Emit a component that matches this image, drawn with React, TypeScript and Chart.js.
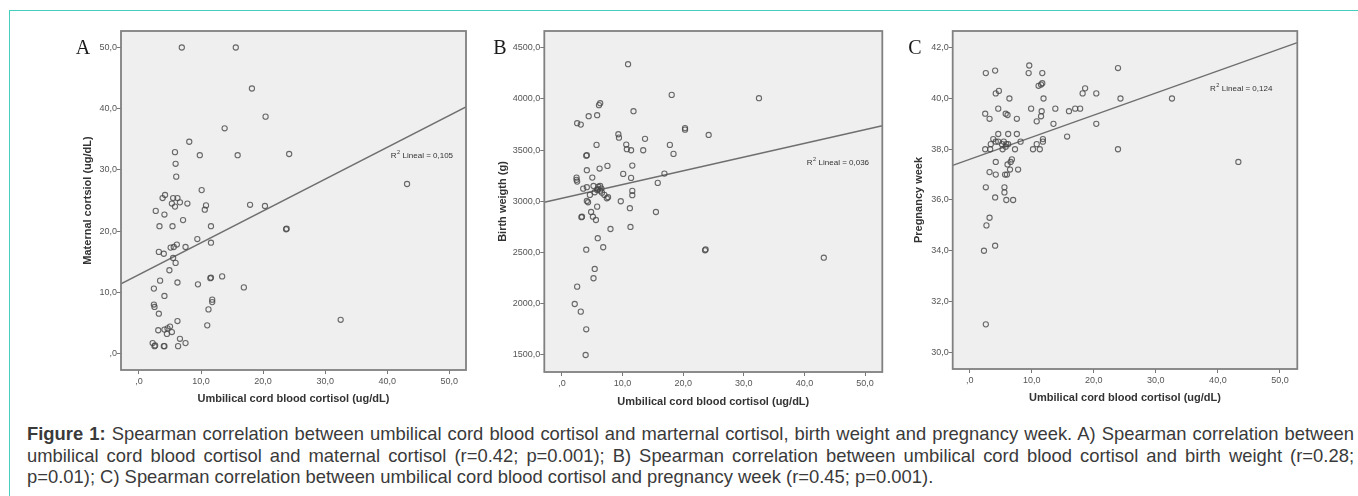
import React, { useEffect, useRef } from 'react';
import { Chart, registerables } from 'chart.js';

Chart.register(...registerables);
Chart.defaults.font.family = '"Liberation Sans", Arial, sans-serif';

// ---------- data ----------
const xTicks = [0, 10, 20, 30, 40, 50];
const yTicksA = [0, 10, 20, 30, 40, 50];
const yTicksB = [1500, 2000, 2500, 3000, 3500, 4000, 4500];
const yTicksC = [30, 32, 34, 36, 38, 40, 42];

const xRangeA: [number, number] = [-2.9, 52.7];
const yRangeA: [number, number] = [-2.7, 52.7];
const xRangeB: [number, number] = [-2.92, 52.85];
const yRangeB: [number, number] = [1334, 4663];
const xRangeC: [number, number] = [-2.74, 52.8];
const yRangeC: [number, number] = [29.34, 42.66];

// Panel A: umbilical cord cortisol vs maternal cortisol
const cordA = [6.9, 15.6, 18.2, 20.4, 13.8, 8.1, 5.8, 9.8, 15.9, 24.2, 5.9, 6.0, 10.1, 43.2, 4.2, 3.8, 5.5, 6.2, 5.3, 5.8,
  6.6, 7.8, 10.8, 10.6, 17.9, 20.3, 2.7, 4.1, 7.1, 3.3, 5.4, 11.6, 23.7, 23.8, 9.4, 11.6, 5.1, 5.6, 6.1, 7.5,
  3.2, 4.0, 5.5, 5.9, 4.9, 3.4, 6.2, 9.5, 11.5, 11.6, 13.4, 16.9, 2.4, 4.1, 2.4, 2.5, 3.2, 11.8, 11.8, 11.2,
  11.0, 6.2, 3.1, 4.1, 4.6, 5.0, 4.5, 5.3, 2.2, 2.5, 2.6, 4.0, 4.1, 6.6, 7.5, 6.3, 32.5];
const maternalA = [50.0, 50.0, 43.3, 38.7, 36.8, 34.6, 32.9, 32.4, 32.4, 32.6, 31.0, 28.9, 26.7, 27.7, 25.9, 25.4, 25.4, 25.4, 24.5, 24.0,
  24.7, 24.5, 24.2, 23.5, 24.3, 24.1, 23.3, 22.7, 21.8, 20.8, 20.8, 20.8, 20.3, 20.4, 18.7, 18.1, 17.3, 17.4, 17.8, 17.4,
  16.6, 16.3, 15.6, 14.8, 13.6, 11.9, 11.6, 11.3, 12.3, 12.4, 12.6, 10.8, 10.6, 9.4, 8.0, 7.6, 6.5, 8.8, 8.4, 7.2,
  4.6, 5.3, 3.8, 3.9, 4.1, 4.4, 3.2, 3.5, 1.7, 1.2, 1.3, 1.2, 1.2, 2.4, 1.7, 1.2, 5.5];

// Panel B: umbilical cord cortisol vs birth weight
const cordB = [18.1, 6.3, 6.1, 11.8, 4.4, 5.8, 2.5, 3.1, 9.3, 9.4, 20.3, 20.3, 24.2, 13.7, 5.7, 10.6, 10.7, 11.4, 13.4, 17.8,
  18.4, 4.0, 4.1, 6.2, 7.5, 4.1, 11.6, 10.1, 11.4, 16.9, 15.8, 5.0, 2.4, 2.4, 2.5, 3.5, 4.1, 5.2, 6.0, 6.3,
  5.8, 6.3, 5.4, 4.6, 6.6, 7.0, 7.6, 7.4, 11.6, 11.6, 4.1, 4.3, 9.7, 5.8, 11.2, 15.5, 3.2, 3.3, 4.8, 5.1,
  5.6, 8.0, 11.3, 5.9, 6.8, 4.0, 23.6, 23.7, 5.4, 5.2, 2.5, 2.1, 3.1, 4.0, 3.9, 43.2, 10.9, 32.5, 5.9, 6.5];
const weightB = [4039, 3958, 3939, 3880, 3831, 3841, 3763, 3749, 3655, 3622, 3700, 3715, 3648, 3610, 3551, 3554, 3509, 3499, 3499, 3551,
  3463, 3446, 3450, 3320, 3346, 3304, 3349, 3268, 3229, 3271, 3180, 3232, 3232, 3210, 3193, 3124, 3138, 3150, 3143, 3150,
  3111, 3104, 3089, 3063, 3085, 3063, 3040, 3030, 3102, 3060, 3004, 2991, 3001, 2948, 2933, 2896, 2845, 2850, 2896, 2850,
  2818, 2730, 2750, 2640, 2552, 2528, 2522, 2530, 2340, 2249, 2167, 1998, 1923, 1751, 1500, 2450, 4339, 4007, 3120, 3125];

// Panel C: umbilical cord cortisol vs pregnancy week
const cordC = [9.6, 2.6, 4.1, 9.5, 11.7, 11.7, 11.5, 11.1, 4.7, 4.2, 6.4, 11.9, 18.6, 18.2, 20.4, 23.9, 24.3, 32.6, 43.3, 23.9,
  20.4, 15.7, 16.0, 17.0, 17.8, 13.8, 13.5, 9.9, 11.6, 11.5, 10.8, 11.8, 11.8, 10.8, 10.2, 11.3, 2.5, 3.2, 4.6, 5.8,
  6.1, 7.6, 4.6, 6.2, 7.6, 8.2, 3.8, 4.2, 4.6, 5.2, 5.5, 5.9, 6.2, 5.3, 5.8, 2.5, 3.3, 7.3, 3.4, 4.2,
  6.6, 6.8, 6.1, 3.2, 4.2, 5.7, 6.0, 6.5, 7.8, 2.6, 5.6, 5.6, 4.1, 5.9, 7.0, 3.2, 2.7, 2.3, 4.1, 2.6];
const weekC = [41.3, 41.0, 41.1, 41.0, 41.0, 40.6, 40.55, 40.5, 40.3, 40.2, 40.0, 40.0, 40.4, 40.2, 40.2, 41.2, 40.0, 40.0, 37.5, 38.0,
  39.0, 38.5, 39.5, 39.6, 39.6, 39.6, 39.0, 39.6, 39.5, 39.3, 39.1, 38.4, 38.3, 38.2, 38.0, 38.0, 39.4, 39.2, 39.6, 39.4,
  39.35, 39.2, 38.6, 38.6, 38.6, 38.3, 38.4, 38.3, 38.3, 38.2, 38.3, 38.2, 38.2, 38.0, 38.1, 38.0, 38.0, 38.0, 38.2, 37.5,
  37.5, 37.6, 37.4, 37.1, 37.0, 37.0, 37.0, 37.2, 37.2, 36.5, 36.5, 36.3, 36.1, 36.0, 36.0, 35.3, 35.0, 34.0, 34.2, 31.1];

// linear fits: [intercept, slope]
const fitA = [12.9, 0.52];
const fitB = [3030, 13.4];
const fitC = [37.6, 0.0872];
const r2Labels = ['0,105', '0,036', '0,124'];
const panelLetters = ['A', 'B', 'C'];
const xTitle = 'Umbilical cord blood cortisol (ug/dL)';
const yTitles = ['Maternal cortsiol (ug/dL)', 'Birth weigth (g)', 'Pregnancy week'];

const captionLines = [
  'Spearman correlation between umbilical cord blood cortisol and marternal cortisol, birth weight and pregnancy week. A) Spearman correlation between',
  'umbilical cord blood cortisol and maternal cortisol (r=0.42; p=0.001); B) Spearman correlation between umbilical cord blood cortisol and birth weight (r=0.28;',
  'p=0.01); C) Spearman correlation between umbilical cord blood cortisol and pregnancy week (r=0.45; p=0.001).',
];

// ---------- helpers ----------
const fmt = (v: number) => {
  const s = Number(v).toFixed(1).replace('.', ',');
  return s.startsWith('0,') ? s.slice(1) : s;
};

const decor = {
  id: 'panelDecor',
  beforeDraw(chart: any) {
    const { ctx, chartArea } = chart;
    const { left, top, right, bottom } = chartArea;
    ctx.save();
    ctx.fillStyle = '#efefef';
    ctx.fillRect(left, top, right - left, bottom - top);
    ctx.restore();
  },
  afterDraw(chart: any, _args: any, opts: any) {
    const { ctx, chartArea } = chart;
    const { left, top, right, bottom } = chartArea;
    ctx.save();
    ctx.strokeStyle = '#808080';
    ctx.lineWidth = 1.8;
    ctx.strokeRect(left, top, right - left, bottom - top);

    // panel letter
    ctx.fillStyle = '#1a1a1a';
    ctx.font = '20px "Liberation Serif", "Times New Roman", serif';
    ctx.textAlign = 'center';
    ctx.textBaseline = 'middle';
    ctx.fillText(opts.letter, left - opts.letterDx, top + 18);

    // R² label
    const x = left + opts.r2Pos[0];
    const y = top + opts.r2Pos[1];
    ctx.fillStyle = '#333';
    ctx.textAlign = 'left';
    ctx.font = '8px "Liberation Sans", Arial, sans-serif';
    ctx.fillText('R', x, y);
    const w1 = ctx.measureText('R').width;
    ctx.font = '5.5px "Liberation Sans", Arial, sans-serif';
    ctx.fillText('2', x + w1 + 0.4, y - 2.8);
    const w2 = ctx.measureText('2').width;
    ctx.font = '8px "Liberation Sans", Arial, sans-serif';
    ctx.fillText(' Lineal = ' + opts.r2, x + w1 + w2 + 0.8, y);
    ctx.restore();
  },
};

type PanelCfg = {
  canvas: { left: number; top: number; width: number; height: number };
  padTop: number;
  padRight: number;
  yAxisWidth: number;
  xAxisHeight: number;
  yTitlePad: number;
  xTitlePad: number;
  xTickPad: number;
  xs: number[];
  ys: number[];
  xRange: [number, number];
  yRange: [number, number];
  yTicks: number[];
  fit: number[];
  r2: string;
  yTitle: string;
  letter: string;
  letterDx: number;
  r2Pos: [number, number];
};

const panels: PanelCfg[] = [
  {
    canvas: { left: 20, top: 10, width: 460, height: 400 },
    padTop: 21, padRight: 14, yAxisWidth: 101, xAxisHeight: 40,
    yTitlePad: 61.4, xTitlePad: 4.4, xTickPad: 2,
    xs: cordA, ys: maternalA, xRange: xRangeA, yRange: yRangeA, yTicks: yTicksA,
    fit: fitA, r2: r2Labels[0], yTitle: yTitles[0], letter: panelLetters[0], letterDx: 38, r2Pos: [269.7, 124.7],
  },
  {
    canvas: { left: 450, top: 10, width: 450, height: 400 },
    padTop: 21, padRight: 17.7, yAxisWidth: 94.3, xAxisHeight: 38,
    yTitlePad: 46.7, xTitlePad: 1.7, xTickPad: 2,
    xs: cordB, ys: weightB, xRange: xRangeB, yRange: yRangeB, yTicks: yTicksB,
    fit: fitB, r2: r2Labels[1], yTitle: yTitles[1], letter: panelLetters[1], letterDx: 44.3, r2Pos: [262.4, 131.3],
  },
  {
    canvas: { left: 880, top: 10, width: 440, height: 400 },
    padTop: 21, padRight: 22.7, yAxisWidth: 72.7, xAxisHeight: 41,
    yTitlePad: 32.7, xTitlePad: 5.1, xTickPad: 2,
    xs: cordC, ys: weekC, xRange: xRangeC, yRange: yRangeC, yTicks: yTicksC,
    fit: fitC, r2: r2Labels[2], yTitle: yTitles[2], letter: panelLetters[2], letterDx: 37.7, r2Pos: [257.3, 57.3],
  },
];

function Panel({ cfg }: { cfg: PanelCfg }) {
  const ref = useRef<HTMLCanvasElement>(null);
  useEffect(() => {
    if (!ref.current) return;
    const [a, b] = cfg.fit;
    const [x0, x1] = cfg.xRange;
    const chart = new Chart(ref.current, {
      type: 'scatter',
      data: {
        datasets: [
          {
            data: cfg.xs.map((x, i) => ({ x, y: cfg.ys[i] })),
            pointRadius: 2.6,
            pointBorderWidth: 1.1,
            borderWidth: 1.1,
            borderColor: 'rgba(70,70,70,0.8)',
            backgroundColor: 'rgba(0,0,0,0)',
            pointBackgroundColor: 'rgba(0,0,0,0)',
            pointBorderColor: 'rgba(70,70,70,0.8)',
          },
          {
            data: [{ x: x0, y: a + b * x0 }, { x: x1, y: a + b * x1 }],
            showLine: true,
            pointRadius: 0,
            borderColor: '#6f6f6f',
            borderWidth: 1.4,
          },
        ],
      },
      options: {
        animation: false,
        responsive: false,
        maintainAspectRatio: false,
        layout: { padding: { top: cfg.padTop, right: cfg.padRight, left: 0, bottom: 0 } },
        plugins: {
          legend: { display: false },
          tooltip: { enabled: false },
          panelDecor: { letter: cfg.letter, letterDx: cfg.letterDx, r2: cfg.r2, r2Pos: cfg.r2Pos },
        } as any,
        scales: {
          x: {
            type: 'linear',
            min: cfg.xRange[0],
            max: cfg.xRange[1],
            afterFit: (s: any) => { s.height = cfg.xAxisHeight; },
            afterBuildTicks: (s: any) => { s.ticks = xTicks.map((v) => ({ value: v })); },
            ticks: {
              callback: (v: any) => fmt(v),
              font: { size: 9 },
              color: '#555',
              padding: cfg.xTickPad,
              maxRotation: 0,
              autoSkip: false,
            },
            grid: { drawOnChartArea: false, drawTicks: true, tickLength: 4, tickColor: '#777', color: '#777' },
            border: { display: false },
            title: {
              display: true,
              text: xTitle,
              font: { size: 11, weight: 'bold' },
              color: '#333',
              padding: { top: 0, bottom: cfg.xTitlePad },
            },
          },
          y: {
            type: 'linear',
            min: cfg.yRange[0],
            max: cfg.yRange[1],
            afterFit: (s: any) => { s.width = cfg.yAxisWidth; },
            afterBuildTicks: (s: any) => { s.ticks = cfg.yTicks.map((v) => ({ value: v })); },
            ticks: {
              callback: (v: any) => fmt(v),
              font: { size: 9 },
              color: '#555',
              padding: 0,
              autoSkip: false,
            },
            grid: { drawOnChartArea: false, drawTicks: true, tickLength: 4, tickColor: '#777', color: '#777' },
            border: { display: false },
            title: {
              display: true,
              text: cfg.yTitle,
              font: { size: 11, weight: 'bold' },
              color: '#333',
              padding: { top: cfg.yTitlePad, bottom: 0 },
            },
          },
        },
      } as any,
      plugins: [decor],
    });
    return () => chart.destroy();
  }, [cfg]);
  const c = cfg.canvas;
  return (
    <canvas
      ref={ref}
      width={c.width}
      height={c.height}
      style={{ position: 'absolute', left: c.left, top: c.top, width: c.width, height: c.height, display: 'block' }}
    />
  );
}

export default function App() {
  return (
    <div
      style={{
        position: 'absolute',
        left: 0,
        top: 0,
        width: 1358,
        height: 496,
        overflow: 'hidden',
        background: '#ffffff',
        fontFamily: '"Liberation Sans", Arial, sans-serif',
      }}
    >
      <div
        style={{
          position: 'absolute',
          left: 9,
          top: 10,
          width: 2000,
          height: 1000,
          borderLeft: '1px solid #45cdbd',
          borderTop: '1px solid #45cdbd',
        }}
      />
      {panels.map((p, i) => (
        <Panel key={i} cfg={p} />
      ))}
      <div
        style={{
          position: 'absolute',
          left: 27,
          top: 423,
          width: 1327,
          fontSize: 18.4,
          lineHeight: '21.5px',
          color: '#3a3a3a',
        }}
      >
        <div style={{ textAlign: 'justify', textAlignLast: 'justify' as any }}>
          <b>Figure 1:</b> {captionLines[0]}
        </div>
        <div style={{ textAlign: 'justify', textAlignLast: 'justify' as any }}>{captionLines[1]}</div>
        <div style={{ textAlign: 'left' }}>{captionLines[2]}</div>
      </div>
    </div>
  );
}
